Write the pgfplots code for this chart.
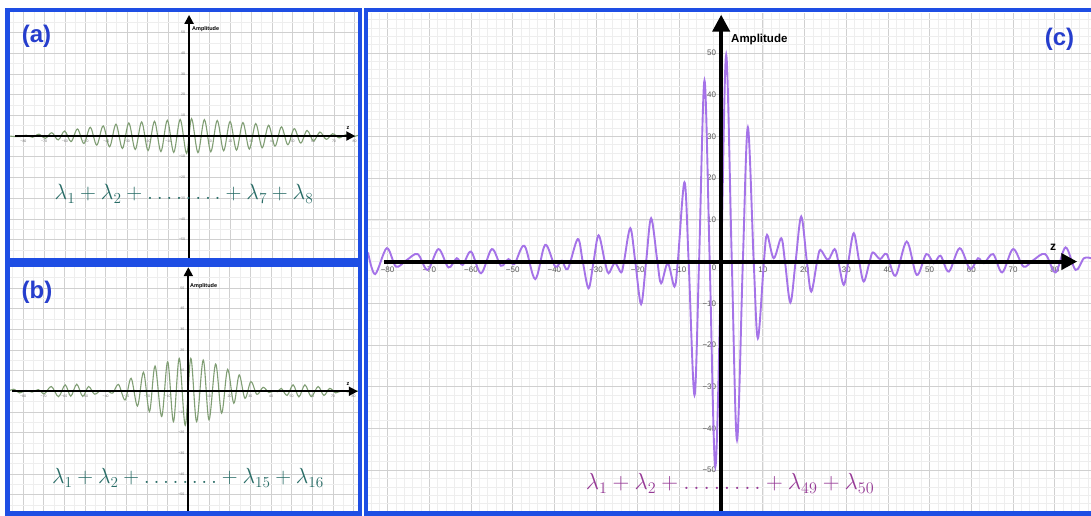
\documentclass[border=0pt]{standalone}
\usepackage{graphicx}
\usepackage{fontspec}
\setmainfont{Liberation Sans}
\usepackage{pgfplots}
\pgfplotsset{compat=1.18}
\usetikzlibrary{arrows.meta}
\definecolor{bord}{RGB}{30,78,228}
\definecolor{lab}{RGB}{38,62,205}
\definecolor{gcurve}{RGB}{128,158,116}
\definecolor{gtext}{RGB}{40,108,102}
\definecolor{pcurve}{RGB}{165,115,232}
\definecolor{ptext}{RGB}{150,58,150}
\definecolor{gmaj}{RGB}{208,208,208}
\definecolor{gmin}{RGB}{238,238,238}
\pgfplotsset{desmos/.style={
  scale only axis, anchor=south west,
  axis lines=middle, axis line style={draw=none},
  grid=both, major tick length=0pt, minor tick length=0pt,
  hide obscured x ticks=false, hide obscured y ticks=false,
  clip=true,
}}
\newcommand{\dotsrow}{\mathinner{\ldotp\ldotp\ldotp\ldotp\ldotp\ldotp\ldotp\ldotp}}
\begin{document}
\begin{tikzpicture}
\useasboundingbox (0,0) rectangle (1091pt,516pt);
\fill[white] (0,0) rectangle (1091pt,516pt);

% ---------------- (a)
\begin{axis}[desmos, at={(10pt,258pt)}, width=348pt, height=246pt,
  xmin=-86.5, xmax=81.6, ymin=-58.9, ymax=59.9,
  major grid style={gmaj, line width=0.6pt}, minor grid style={gmin, line width=0.45pt},
  xtick={-80,-70,-60,-50,-40,-30,-20,-10,10,20,30,40,50,60,70,80},
  xticklabels={−80,−70,−60,−50,−40,−30,−20,−10,10,20,30,40,50,60,70,80},
  ytick={-50,-40,-30,-20,-10,10,20,30,40,50},
  yticklabels={−50,−40,−30,−20,−10,10,20,30,40,50},
  minor xtick={-85,-75,...,80}, minor ytick={-55,-45,...,55},
  tick label style={font=\fontsize{3.5}{4}\selectfont, text=black!55},
  xticklabel style={yshift=-0.5pt}, yticklabel style={xshift=-0.5pt}]
\addplot[gcurve, line width=1.1pt, smooth, tension=0.55] coordinates {
(-87.0,0.0) (-84.7,-0.2) (-81.6,-0.3) (-78.7,0.4) (-75.6,-0.6) (-72.5,0.9) (-69.4,-1.1)
(-66.3,1.6) (-63.2,-1.9) (-60.1,2.4) (-57.0,-2.7) (-53.9,3.4) (-50.8,-3.6) (-47.7,4.2)
(-44.6,-4.4) (-41.5,4.9) (-38.4,-5.2) (-35.3,5.7) (-32.2,-6.0) (-29.1,6.3) (-26.0,-6.5)
(-22.9,6.8) (-19.8,-7.0) (-16.7,7.1) (-13.6,-7.5) (-10.5,7.6) (-7.4,-7.9) (-4.3,8.0)
(-1.2,-8.4) (1.2,8.4) (4.3,-8.0) (7.4,7.9) (10.5,-7.6) (13.6,7.5) (16.7,-7.1) (19.8,7.0)
(22.9,-6.8) (26.0,6.5) (29.1,-6.3) (32.2,6.0) (35.3,-5.7) (38.4,5.2) (41.5,-4.9)
(44.6,4.4) (47.7,-4.2) (50.8,3.6) (53.9,-3.4) (57.0,2.7) (60.1,-2.4) (63.2,1.9)
(66.3,-1.6) (69.4,1.1) (72.5,-0.9) (75.6,0.6) (78.7,-0.4) (81.6,0.3) (83.0,0.0)};
\draw[black, line width=2pt, -{Triangle[length=9pt,width=9pt]}] (axis cs:-84,0) -- (axis cs:80.3,0);
\draw[black, line width=2pt, -{Triangle[length=9pt,width=9pt]}] (axis cs:0,-58.9) -- (axis cs:0,58.5);
\end{axis}

% ---------------- (b)
\begin{axis}[desmos, at={(10pt,5pt)}, width=348pt, height=244pt,
  xmin=-86.3, xmax=82.1, ymin=-57.9, ymax=60.1,
  major grid style={gmaj, line width=0.6pt}, minor grid style={gmin, line width=0.45pt},
  xtick={-80,-70,-60,-50,-40,-30,-20,-10,10,20,30,40,50,60,70,80},
  xticklabels={−80,−70,−60,−50,−40,−30,−20,−10,10,20,30,40,50,60,70,80},
  ytick={-50,-40,-30,-20,-10,10,20,30,40,50},
  yticklabels={−50,−40,−30,−20,−10,10,20,30,40,50},
  minor xtick={-85,-75,...,80}, minor ytick={-55,-45,...,55},
  tick label style={font=\fontsize{3.5}{4}\selectfont, text=black!55},
  xticklabel style={yshift=-0.5pt}, yticklabel style={xshift=-0.5pt}]
\addplot[gcurve, line width=1.1pt, smooth, tension=0.55] coordinates {
(-87.0,0.0) (-84.5,1.0) (-81.6,-0.8) (-78.6,0.4) (-75.6,-0.4) (-72.6,0.8) (-69.7,-1.2)
(-66.3,2.3) (-62.8,-2.6) (-59.6,3.1) (-56.9,-2.4) (-54.0,3.4) (-51.1,-2.5) (-48.3,2.3)
(-45.4,-1.4) (-42.5,0.4) (-40.8,-0.1) (-39.2,0.3) (-36.6,-0.9) (-33.8,3.3) (-30.6,-4.2)
(-27.7,6.3) (-24.6,-7.1) (-21.7,9.2) (-18.8,-9.8) (-16.1,12.2) (-12.9,-12.2) (-10.0,14.3)
(-7.2,-14.7) (-4.4,15.9) (-1.5,-16.5) (1.2,15.9) (4.0,-14.7) (7.2,15.1) (10.0,-13.8)
(13.2,13.2) (16.1,-10.6) (19.0,10.6) (22.0,-5.8) (24.6,7.9) (27.4,-3.4) (30.3,4.7)
(33.2,-1.5) (36.2,1.9) (39.0,-0.6) (41.5,0.3) (43.2,-0.2) (45.0,1.4) (47.8,-2.0)
(50.7,3.1) (53.5,-2.7) (56.4,3.1) (59.5,-2.6) (62.8,2.3) (65.6,-2.0) (68.4,1.4)
(71.3,-0.8) (74.3,0.4) (77.2,-0.3) (80.2,0.5) (83.0,-0.3)};
\draw[black, line width=2pt, -{Triangle[length=9pt,width=9pt]}] (axis cs:-85.5,0) -- (axis cs:82,0);
\draw[black, line width=2pt, -{Triangle[length=9pt,width=9pt]}] (axis cs:0,-57.9) -- (axis cs:0,60);
\end{axis}

% ---------------- (c)
\begin{axis}[desmos, at={(368pt,5pt)}, width=723pt, height=498pt,
  xmin=-84.7, xmax=88.7, ymin=-59.8, ymax=59.6,
  major grid style={gmaj, line width=0.9pt}, minor grid style={gmin, line width=0.6pt},
  xtick={-80,-70,-60,-50,-40,-30,-20,-10,10,20,30,40,50,60,70,80},
  xticklabels={−80,−70,−60,−50,−40,−30,−20,−10,10,20,30,40,50,60,70,80},
  ytick={-50,-40,-30,-20,-10,10,20,30,40,50},
  yticklabels={−50,−40,−30,−20,−10,10,20,30,40,50},
  minor xtick={-84,-82,...,88}, minor ytick={-58,-56,...,58},
  tick label style={font=\fontsize{8}{8}\selectfont, text=black!65},
  xticklabel style={yshift=-1.5pt}, yticklabel style={xshift=-1.5pt}]
\addplot[pcurve, line width=1.9pt, smooth, tension=0.55] coordinates {
(-84.7,2.2) (-83.0,-3.0) (-80.2,3.2) (-78.0,-1.2) (-75.5,0.3) (-72.8,1.8) (-70.4,-2.0)
(-67.8,3.0) (-65.4,-1.4) (-63.4,0.8) (-62.0,-0.8) (-60.0,2.4) (-57.6,-2.8) (-55.0,3.0)
(-52.8,-1.0) (-51.0,0.6) (-49.6,-0.6) (-47.2,3.8) (-44.6,-4.2) (-42.2,4.0) (-39.8,-1.2)
(-38.2,0.2) (-36.8,-1.8) (-34.4,5.4) (-33.2,0) (-31.8,-6.4) (-30.6,0) (-29.4,6.3)
(-27.9,0) (-27.0,-2.8) (-25.5,-0.3) (-24.0,-2.6) (-23.3,0) (-21.8,8.0) (-20.6,0)
(-19.2,-10.2) (-18.0,0) (-16.8,10.4) (-15.3,0) (-14.4,-5.2) (-12.8,-0.4) (-11.2,-6.0)
(-10.4,0) (-8.8,19.0) (-7.8,0) (-6.4,-32.0) (-5.3,0) (-4.0,43.4) (-2.75,0) (-1.4,-49.2)
(0,0) (1.2,49.6) (2.55,0) (3.8,-42.8) (5.2,0) (6.4,32.2) (7.8,0) (8.8,-18.4) (10.25,0)
(11.0,6.4) (12.6,0.8) (14.4,5.6) (15.3,0) (16.6,-9.8) (17.85,0) (19.2,10.8) (20.55,0)
(21.6,-7.2) (23.0,0) (23.8,2.8) (25.6,0.4) (27.2,3.0) (28.1,0) (29.4,-5.6) (30.5,0)
(31.8,6.8) (33.1,0) (34.2,-4.8) (35.6,0) (36.4,2.2) (38.1,0.6) (39.7,1.8) (41.8,-3.4)
(44.5,4.8) (46.9,-3.2) (49.2,1.8) (51.0,-0.4) (52.6,1.4) (54.6,-2.4) (57.2,3.2)
(59.7,-1.8) (61.6,0.8) (63.0,-0.4) (65.2,1.8) (67.4,-2.6) (70.0,3.0) (72.5,-1.2)
(74.8,0.3) (77.7,1.8) (80.2,-2.6) (82.6,3.4) (85.0,-2.0) (87.0,0.8) (88.7,0.8)};
\draw[black, line width=4pt, -{Triangle[length=16pt,width=16pt]}] (axis cs:-80.9,0) -- (axis cs:85.4,0);
\draw[black, line width=4pt, -{Triangle[length=17pt,width=17pt]}] (axis cs:0,-59.8) -- (axis cs:0,59.2);
\end{axis}

% ---------------- borders
\draw[bord, line width=4.5pt] (7.5pt,255.5pt) rectangle (360pt,506pt);
\draw[bord, line width=4.5pt] (7.5pt,2.5pt) rectangle (360pt,251.5pt);
\draw[bord, line width=4.5pt] (366pt,2.5pt) rectangle (1095pt,506pt);

% ---------------- texts
\node[text=lab, font=\bfseries\fontsize{24}{24}\selectfont] at (36.5pt,479.5pt) {(a)};
\node[text=lab, font=\bfseries\fontsize{24}{24}\selectfont] at (37pt,224pt) {(b)};
\node[text=lab, font=\bfseries\fontsize{24}{24}\selectfont] at (1059.5pt,477pt) {(c)};
\node[anchor=west, inner sep=0pt, font=\bfseries\fontsize{11.5}{12}\selectfont] at (731pt,476pt) {Amplitude};
\node[anchor=west, inner sep=0pt, font=\bfseries\fontsize{5.5}{6}\selectfont] at (192pt,487pt) {Amplitude};
\node[anchor=west, inner sep=0pt, font=\bfseries\fontsize{5.5}{6}\selectfont] at (190pt,230pt) {Amplitude};
\node[inner sep=0pt, font=\bfseries\fontsize{12}{12}\selectfont] at (1053pt,269pt) {z};
\node[inner sep=0pt, font=\bfseries\fontsize{5.5}{6}\selectfont] at (348pt,388pt) {z};
\node[inner sep=0pt, font=\bfseries\fontsize{5.5}{6}\selectfont] at (348pt,132pt) {z};
\node[inner sep=0pt, text=black!65, font=\fontsize{8}{8}\selectfont] at (714pt,248pt) {0};
\node[anchor=base, inner sep=0pt, text=gtext, font=\fontsize{20.74}{22}\selectfont] at (184pt,316pt)
  {\scalebox{1.062}{$\lambda_1+\lambda_2+\dotsrow+\lambda_7+\lambda_8$}};
\node[anchor=base, inner sep=0pt, text=gtext, font=\fontsize{20.74}{22}\selectfont] at (188pt,32pt)
  {\scalebox{1.055}{$\lambda_1+\lambda_2+\dotsrow+\lambda_{15}+\lambda_{16}$}};
\node[anchor=base, inner sep=0pt, text=ptext, font=\fontsize{20.74}{22}\selectfont] at (730pt,26pt)
  {\scalebox{1.12}{$\lambda_1+\lambda_2+\dotsrow+\lambda_{49}+\lambda_{50}$}};
\end{tikzpicture}
\end{document}
